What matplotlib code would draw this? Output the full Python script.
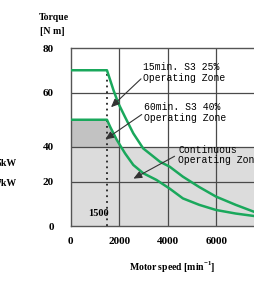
import numpy as np
import matplotlib
matplotlib.use("Agg")
import matplotlib.pyplot as plt

# torque axis is drawn unevenly in the original, ticks keep their own spacing
y_ticks = [0, 20, 40, 60, 80]
y_pos = [0, 44.5, 79, 133.5, 178]
x_ticks = [0, 2000, 4000, 6000, 8000]

# 15min S3 25% curve
upper_speed = [0, 1500, 1770, 1970, 2245, 2585, 2990, 3675, 4080, 4625, 5300, 5990, 6800, 7550, 8400]
upper_torque = [70, 70, 61, 56, 51, 45, 39.2, 31.5, 28.6, 22.8, 17.5, 13.2, 9.5, 6.4, 4]
# 60min S3 40% curve
lower_speed = [0, 1500, 1633, 1906, 2245, 2584, 2992, 3539, 4082, 4626, 5300, 5988, 6800, 7551, 8400]
lower_torque = [50, 50, 47.4, 42.6, 36.3, 29.6, 24.8, 20.9, 16.8, 12.4, 9.5, 7.2, 5.6, 4.5, 3.5]
continuous_torque = 40
base_speed = 1500


def fwd(v):
    return np.interp(v, y_ticks, y_pos)


def inv(p):
    return np.interp(p, y_pos, y_ticks)


fig = plt.figure(figsize=(2.55, 2.81), dpi=100)
W, H = 255, 281
ax = fig.add_axes([70.5 / W, 55 / H, 243 / W, 178 / H])
ax.set_yscale("function", functions=(fwd, inv))
ax.set_xlim(0, 10000)
ax.set_ylim(0, 80)

green = "#1aa85c"
grid_c = "#4a4a4a"

# zones
ax.fill_between([0, 10000], 0, continuous_torque, color="#dcdcdc", lw=0, zorder=0)
ls = np.array(lower_speed, dtype=float)
lt = np.array(lower_torque, dtype=float)
ax.fill_between(ls, continuous_torque, lt, where=lt >= continuous_torque,
                interpolate=True, color="#c2c2c2", lw=0, zorder=0)

for t in y_ticks[1:-1]:
    ax.axhline(t, color=grid_c, lw=0.9, zorder=1)
for s in x_ticks[1:]:
    ax.axvline(s, color=grid_c, lw=0.9, zorder=1)

ax.plot(upper_speed, upper_torque, color=green, lw=1.8, zorder=3)
ax.plot(lower_speed, lower_torque, color=green, lw=1.8, zorder=3)
ax.plot([base_speed, base_speed], [0, upper_torque[1]], color="#222222",
        lw=1.3, ls=(0, (1, 2.2)), zorder=2)
ax.text(1150, 5.8, str(base_speed), ha="center", va="center",
        family="Liberation Serif", fontweight="bold", fontsize=7.5, zorder=4)

mono = dict(family="Liberation Mono", fontsize=7, linespacing=1.1, ha="left",
            va="center", zorder=5)
ax.text(2984, 69, "15min. S3 25%\nOperating Zone", **mono)
ax.text(3025, 52.7, "60min. S3 40%\nOperating Zone", **mono)
ax.text(4424, 35.4, "Continuous\nOperating Zone", **mono)

arr = dict(arrowstyle="-|>,head_length=0.5,head_width=0.22", color="#333333", lw=0.8)
ax.annotate("", xy=(1584, 53.9), xytext=(2984, 67.0), arrowprops=arr, zorder=5)
ax.annotate("", xy=(1337, 42.2), xytext=(3025, 52.5), arrowprops=arr, zorder=5)
ax.annotate("", xy=(2490, 20.9), xytext=(4383, 35.4), arrowprops=arr, zorder=5)

for sp in ax.spines.values():
    sp.set_color("#555555")
    sp.set_linewidth(1.0)

ax.set_xticks(x_ticks)
ax.set_yticks(y_ticks)
ax.set_xticklabels([str(v) for v in x_ticks])
ax.set_yticklabels([str(v) for v in y_ticks])
ax.tick_params(length=0, labelsize=8)
ax.tick_params(axis="y", pad=12)
ax.tick_params(axis="x", pad=8)
ax.yaxis.set_minor_locator(matplotlib.ticker.NullLocator())
for lab in ax.get_xticklabels() + ax.get_yticklabels():
    lab.set_family("Liberation Serif")
    lab.set_fontweight("bold")

lbl = dict(family="Liberation Serif", fontweight="bold", fontsize=7)
fig.text(39 / W, 1 - 17 / H, "Torque", ha="left", va="center", **lbl)
fig.text(40 / W, 1 - 32 / H, "[N m]", ha="left", va="center", **lbl)
fig.text(172 / W, 1 - 267 / H, r"Motor speed [min$^{\mathregular{-1}}$]",
         ha="center", va="center", **lbl)
fig.text(17 / W, 1 - 163 / H, "5kW", ha="right", va="center", **lbl)
fig.text(17 / W, 1 - 183 / H, "7kW", ha="right", va="center", **lbl)

fig.savefig("out.png", dpi=100)
